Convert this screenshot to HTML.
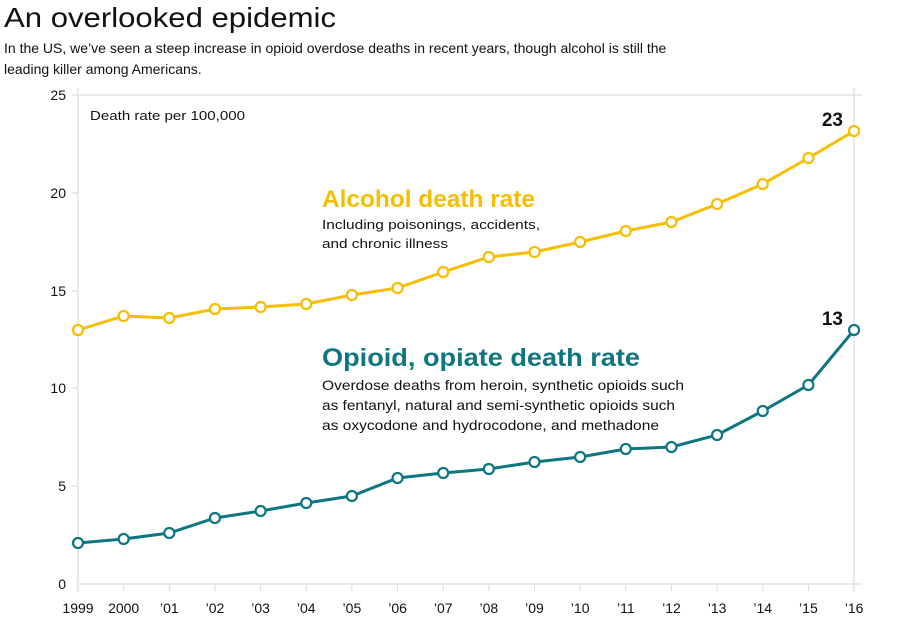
<!DOCTYPE html>
<html><head><meta charset="utf-8"><style>
body{margin:0;background:#fff;width:900px;height:621px;overflow:hidden;font-family:"Liberation Sans",sans-serif}
</style></head><body>
<svg width="900" height="621" xmlns="http://www.w3.org/2000/svg" font-family="Liberation Sans, sans-serif">
<text x="4" y="27" font-size="28" fill="#111" textLength="332" lengthAdjust="spacingAndGlyphs">An overlooked epidemic</text>
<text x="4" y="53" font-size="14" fill="#111">In the US, we’ve seen a steep increase in opioid overdose deaths in recent years, though alcohol is still the</text>
<text x="4" y="74" font-size="14" fill="#111">leading killer among Americans.</text>
<g stroke="#ddd" stroke-width="1.2" fill="none">
<line x1="78" y1="95" x2="862" y2="95"/>
<line x1="78" y1="584" x2="862" y2="584"/>
<line x1="78" y1="88" x2="78" y2="592"/>
<line x1="854" y1="88" x2="854" y2="592"/>
<line x1="72" y1="95" x2="78" y2="95"/><line x1="72" y1="193" x2="78" y2="193"/><line x1="72" y1="291" x2="78" y2="291"/><line x1="72" y1="388" x2="78" y2="388"/><line x1="72" y1="486" x2="78" y2="486"/>
</g>
<g font-size="14" fill="#111" text-anchor="end">
<text x="66" y="100">25</text><text x="66" y="198">20</text><text x="66" y="296">15</text><text x="66" y="393">10</text><text x="66" y="491">5</text><text x="66" y="589">0</text>
</g>
<g font-size="14" fill="#111" text-anchor="middle" id="xl"></g>
<text x="90" y="120" font-size="13" fill="#111" textLength="155" lengthAdjust="spacingAndGlyphs">Death rate per 100,000</text>
<text x="322" y="207" font-size="24" font-weight="bold" fill="#f6be00" textLength="213" lengthAdjust="spacingAndGlyphs">Alcohol death rate</text>
<text x="322" y="229" font-size="13" fill="#111" textLength="218" lengthAdjust="spacingAndGlyphs">Including poisonings, accidents,</text>
<text x="322" y="248" font-size="13" fill="#111" textLength="126" lengthAdjust="spacingAndGlyphs">and chronic illness</text>
<text x="322" y="366" font-size="25" font-weight="bold" fill="#0d7680" textLength="318" lengthAdjust="spacingAndGlyphs">Opioid, opiate death rate</text>
<text x="322" y="390" font-size="14" fill="#111" textLength="362" lengthAdjust="spacingAndGlyphs">Overdose deaths from heroin, synthetic opioids such</text>
<text x="322" y="410" font-size="14" fill="#111" textLength="353" lengthAdjust="spacingAndGlyphs">as fentanyl, natural and semi-synthetic opioids such</text>
<text x="322" y="430" font-size="14" fill="#111" textLength="337" lengthAdjust="spacingAndGlyphs">as oxycodone and hydrocodone, and methadone</text>
<text x="843" y="126" font-size="19" font-weight="bold" fill="#111" text-anchor="end">23</text>
<text x="843" y="325" font-size="19" font-weight="bold" fill="#111" text-anchor="end">13</text>
<g id="series"></g>
</svg>
<script>
var a=[330,316,318,309,307,304,295,288,272,257,252,242,231,222,204,184,158,131];
var o=[543,539,533,518,511,503,496,478,473,469,462,457,449,447,435,411,385,330];
var lab=["1999","2000","’01","’02","’03","’04","’05","’06","’07","’08","’09","’10","’11","’12","’13","’14","’15","’16"];
var ns="http://www.w3.org/2000/svg",s=document.getElementById("series"),xl=document.getElementById("xl");
function X(i){return 78+45.65*i}
function el(t,at,p){var e=document.createElementNS(ns,t);for(var k in at)e.setAttribute(k,at[k]);p.appendChild(e);return e}
lab.forEach(function(l,i){el("line",{x1:X(i),y1:584,x2:X(i),y2:591,stroke:"#ddd"},s);var t=el("text",{x:X(i),y:613},xl);t.textContent=l;});
[[a,"#f6be00"],[o,"#0d7680"]].forEach(function(d){
 el("polyline",{points:d[0].map(function(y,i){return X(i)+","+y}).join(" "),fill:"none",stroke:d[1],"stroke-width":3},s);
 d[0].forEach(function(y,i){el("circle",{cx:X(i),cy:y,r:5,fill:"#fff",stroke:d[1],"stroke-width":2.2},s)});
});
</script>
</body></html>
